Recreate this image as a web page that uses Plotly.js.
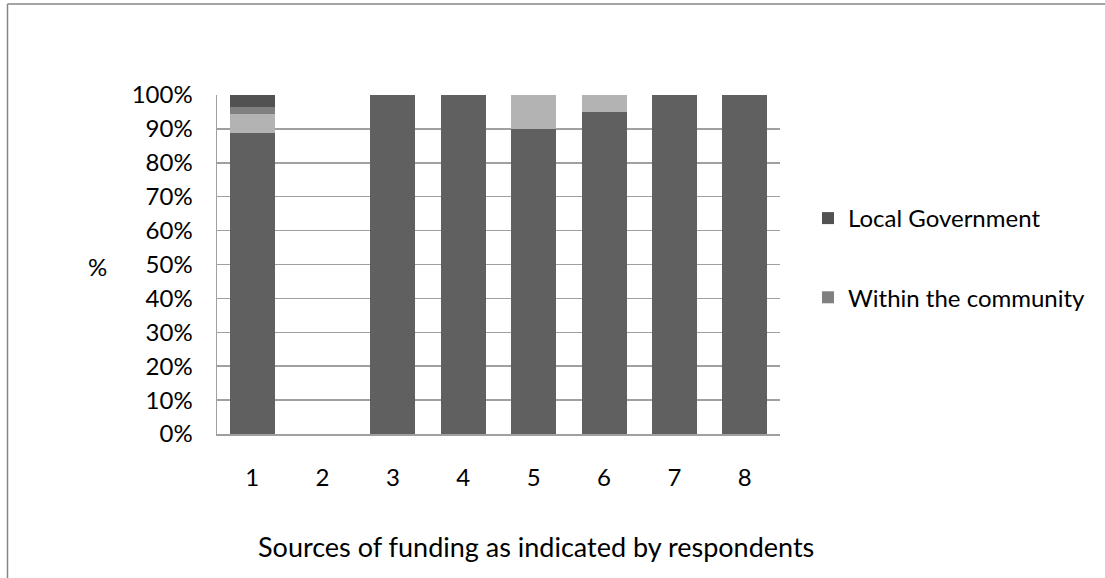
<!DOCTYPE html>
<html>
<head>
<meta charset="utf-8">
<script src="https://cdn.plot.ly/plotly-3.0.1.min.js"></script>
<style>
  html, body { margin: 0; padding: 0; background: #fff; }
  #chart { width: 1105px; height: 578px; }
</style>
</head>
<body>
<div id="chart"></div>
<script>
// Respondent categories on the x axis
const categories = ['1', '2', '3', '4', '5', '6', '7', '8'];

// Stacked shares (%) per category, listed bottom to top
const seriesBase      = [88.9, 0, 100, 100, 90, 95, 100, 100];
const seriesLight     = [5.4, 0, 0, 0, 10, 5, 0, 0];
const withinCommunity = [2.2, 0, 0, 0, 0, 0, 0, 0];
const localGovernment = [3.5, 0, 0, 0, 0, 0, 0, 0];

const yTickValues = [0, 10, 20, 30, 40, 50, 60, 70, 80, 90, 100];
const yTickLabels = yTickValues.map(v => v + '%');

// Plot-area geometry in pixels, used to place frame and free text
const W = 1105, H = 578;
const PL = 217, PR = 780, PT = 95, PB = 434;
const px = x => (x - PL) / (PR - PL);
const py = y => (PB - y) / (PB - PT);

const FONT = 'Lato, Open Sans, sans-serif';
const GRID = '#a0a0a0';

const traces = [
  { name: 'Series 1', y: seriesBase, color: '#606060', legend: false, rank: 4 },
  { name: 'Series 2', y: seriesLight, color: '#b3b3b3', legend: false, rank: 3 },
  { name: 'Within the community', y: withinCommunity, color: '#808080', legend: true, rank: 2 },
  { name: 'Local Government', y: localGovernment, color: '#525252', legend: true, rank: 1 }
].map(t => ({
  type: 'bar',
  x: categories,
  y: t.y,
  name: t.name,
  legendgroup: t.name,
  legendrank: t.rank,
  showlegend: t.legend,
  marker: { color: t.color, line: { width: 0 } },
  hoverinfo: 'skip'
}));

const layout = {
  width: W,
  height: H,
  margin: { l: PL, r: W - PR, t: PT, b: H - PB, pad: 0 },
  paper_bgcolor: '#ffffff',
  plot_bgcolor: '#ffffff',
  barmode: 'stack',
  bargap: 0.36,
  font: { family: FONT, color: '#000000', size: 24 },
  xaxis: {
    type: 'category',
    showgrid: false,
    showline: true,
    linecolor: GRID,
    linewidth: 1.5,
    ticks: '',
    ticklabelstandoff: 22,
    tickfont: { family: FONT, size: 24, color: '#000' },
    zeroline: false,
    fixedrange: true
  },
  yaxis: {
    range: [0, 100],
    tickmode: 'array',
    tickvals: yTickValues,
    ticktext: yTickLabels,
    showgrid: true,
    gridcolor: GRID,
    gridwidth: 1.5,
    showline: true,
    linecolor: GRID,
    linewidth: 1.5,
    ticks: '',
    ticklabelstandoff: 18,
    tickfont: { family: FONT, size: 24, color: '#000' },
    zeroline: false,
    fixedrange: true
  },
  legend: {
    x: px(808),
    y: py(196),
    xanchor: 'left',
    yanchor: 'top',
    traceorder: 'grouped',
    tracegroupgap: 45,
    bgcolor: 'rgba(0,0,0,0)',
    font: { family: FONT, size: 24, color: '#000' }
  },
  annotations: [
    {
      text: '%', xref: 'paper', yref: 'paper',
      x: px(97), y: py(266), xanchor: 'center', yanchor: 'middle',
      showarrow: false, font: { family: FONT, size: 24, color: '#000' }
    },
    {
      text: 'Sources of funding as indicated by respondents',
      xref: 'paper', yref: 'paper',
      x: px(536), y: py(546), xanchor: 'center', yanchor: 'middle',
      showarrow: false, font: { family: FONT, size: 27, color: '#000' }
    }
  ],
  shapes: [
    {
      type: 'line', xref: 'paper', yref: 'paper',
      x0: px(7.5), y0: py(4), x1: px(W + 2), y1: py(4),
      line: { color: '#868686', width: 1.5 }
    },
    {
      type: 'line', xref: 'paper', yref: 'paper',
      x0: px(7.5), y0: py(4), x1: px(7.5), y1: py(H + 2),
      line: { color: '#868686', width: 1.5 }
    }
  ]
};

Plotly.newPlot('chart', traces, layout, { staticPlot: true, displayModeBar: false });
</script>
</body>
</html>
